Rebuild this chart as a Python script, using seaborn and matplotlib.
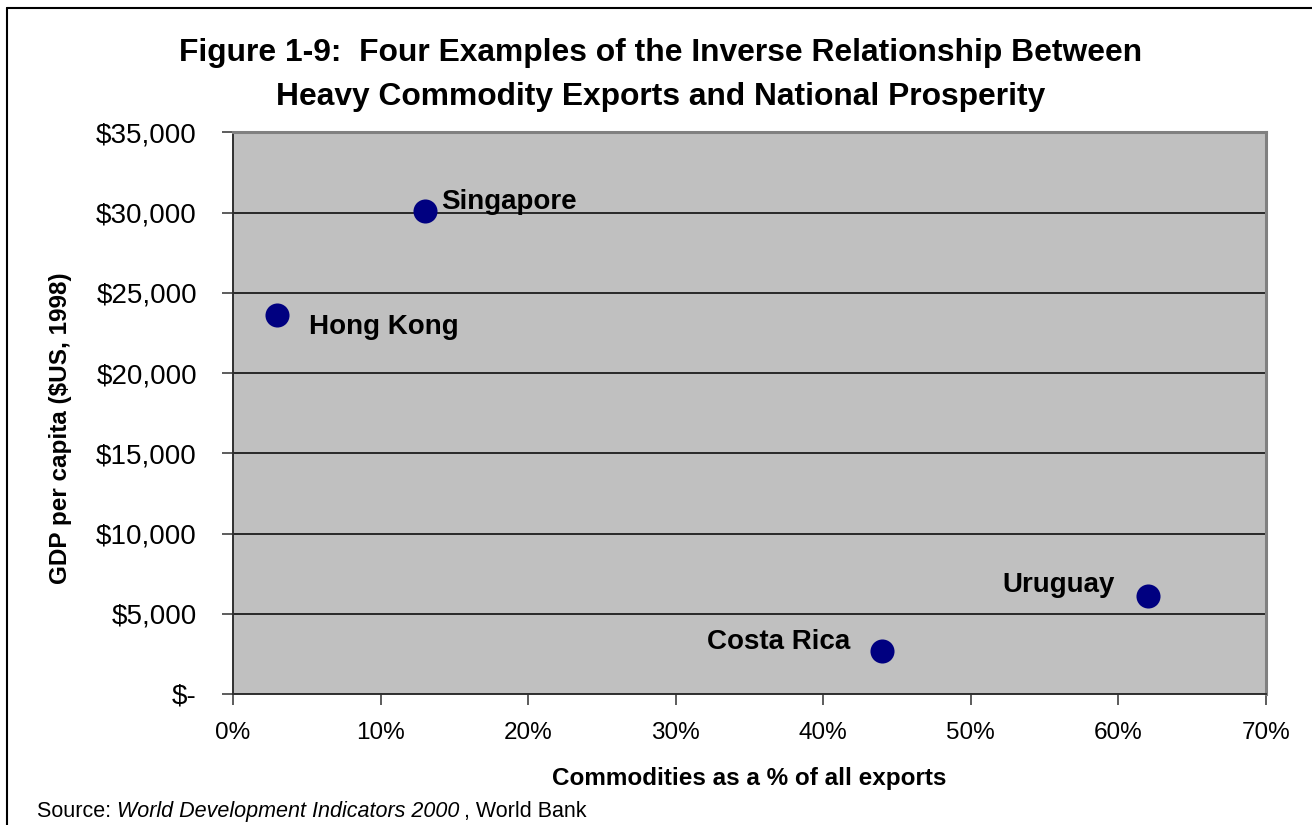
import matplotlib
matplotlib.use("Agg")
import matplotlib.pyplot as plt
import matplotlib.ticker as mticker
import seaborn as sns
import pandas as pd

# Commodity share of exports vs. GDP per capita, 1998
countries = ["Singapore", "Hong Kong", "Costa Rica", "Uruguay"]
commodity_share = [0.13, 0.03, 0.44, 0.62]
gdp_per_capita = [30100, 23600, 2700, 6100]

x_ticks = [0.0, 0.1, 0.2, 0.3, 0.4, 0.5, 0.6, 0.7]
y_ticks = [0, 5000, 10000, 15000, 20000, 25000, 30000, 35000]

df = pd.DataFrame({"country": countries,
                   "share": commodity_share,
                   "gdp": gdp_per_capita})

sns.set_theme(style="white")
plt.rcParams["font.family"] = ["Liberation Sans", "DejaVu Sans"]
plt.rcParams["text.color"] = "black"
plt.rcParams["axes.labelcolor"] = "black"
plt.rcParams["xtick.color"] = "black"
plt.rcParams["ytick.color"] = "black"

fig = plt.figure(figsize=(13.12, 8.25), dpi=100)
ax = fig.add_axes([233 / 1312, 1 - 694 / 825, 1033 / 1312, 561.5 / 825])
ax.set_facecolor("#C0C0C0")

sns.scatterplot(data=df, x="share", y="gdp", ax=ax, s=300,
                color="#000080", edgecolor="#000080", linewidth=0, zorder=3)

ax.set_xlim(0, 0.7)
ax.set_ylim(0, 35000)
ax.set_xticks(x_ticks)
ax.set_yticks(y_ticks)
ax.xaxis.set_major_formatter(mticker.FuncFormatter(lambda v, p: f"{v * 100:.0f}%"))
ax.yaxis.set_major_formatter(
    mticker.FuncFormatter(lambda v, p: "$-" if v == 0 else f"${v:,.0f}"))

ax.yaxis.grid(True, color="black", linewidth=1.1)
ax.xaxis.grid(False)
ax.set_axisbelow(True)

ax.tick_params(axis="both", direction="out", length=8, width=1.1,
               color="#303030", left=True, bottom=True)
ax.tick_params(axis="x", labelsize=17.5, pad=12, labelcolor="black")
ax.tick_params(axis="y", labelsize=20, pad=18, labelcolor="black")

for side in ["left", "bottom"]:
    ax.spines[side].set_color("#303030")
    ax.spines[side].set_linewidth(1.4)
for side in ["top", "right"]:
    ax.spines[side].set_color("#808080")
    ax.spines[side].set_linewidth(2.2)

ax.set_xlabel("")
ax.set_ylabel("")

# point labels, offset from each marker (points), anchored on the baseline
offsets = {"Singapore": (12, 1.7, "left"),
           "Hong Kong": (23, -13.7, "left"),
           "Costa Rica": (-23, 1, "right"),
           "Uruguay": (-24, 3.3, "right")}
for c, xv, yv in zip(countries, commodity_share, gdp_per_capita):
    dx, dy, ha = offsets[c]
    ax.annotate(c, (xv, yv), xytext=(dx, dy), textcoords="offset points",
                ha=ha, va="baseline", fontsize=20, fontweight="bold",
                color="black", zorder=4)

# titles and axis labels
fig.text(661 / 1312, 1 - 53 / 825,
         "Figure 1-9:  Four Examples of the Inverse Relationship Between",
         ha="center", va="center", fontsize=22.9, fontweight="bold")
fig.text(661 / 1312, 1 - 97 / 825,
         "Heavy Commodity Exports and National Prosperity",
         ha="center", va="center", fontsize=22.9, fontweight="bold")
fig.text(749 / 1312, 1 - 778 / 825, "Commodities as a % of all exports",
         ha="center", va="center", fontsize=17.5, fontweight="bold")
fig.text(61 / 1312, 1 - 428 / 825, "GDP per capita ($US, 1998)",
         ha="center", va="center", rotation=90, fontsize=17.5,
         fontweight="bold")

# source line: plain, italic title, plain, sharing one baseline
base_y = 1 - 817 / 825
src = fig.text(37 / 1312, base_y, "Source: ", ha="left", va="baseline",
               fontsize=15.5)
fig.canvas.draw()
r = fig.canvas.get_renderer()
bb = src.get_window_extent(r)
src2 = fig.text(bb.x1 / 1312, base_y, "World Development Indicators 2000",
                ha="left", va="baseline", fontsize=15.5, style="italic")
bb2 = src2.get_window_extent(r)
fig.text(bb2.x1 / 1312 + 4 / 1312, base_y, ", World Bank",
         ha="left", va="baseline", fontsize=15.5)

# outer frame (top and left edges visible)
fig.add_artist(plt.Line2D([7 / 1312, 1.0], [1 - 8 / 825, 1 - 8 / 825],
                          transform=fig.transFigure, color="black", linewidth=1.5))
fig.add_artist(plt.Line2D([7 / 1312, 7 / 1312], [0.0, 1 - 8 / 825],
                          transform=fig.transFigure, color="black", linewidth=1.5))

fig.savefig("out.png", dpi=100, facecolor="white")
